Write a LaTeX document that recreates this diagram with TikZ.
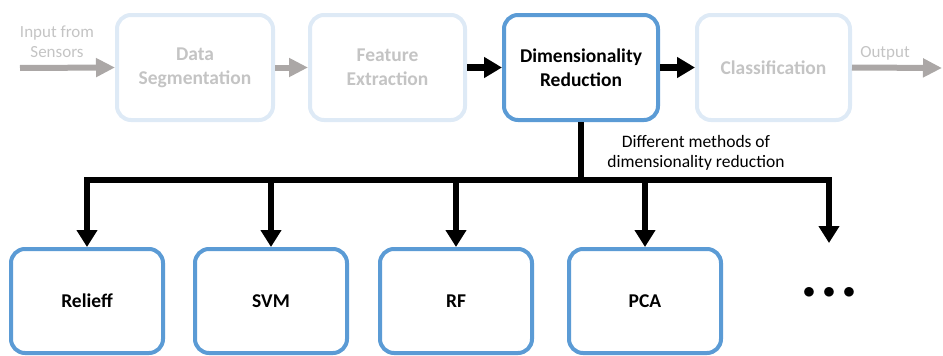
\documentclass[tikz,border=0pt]{standalone}
\usepackage{fontspec}
\setmainfont{Carlito}
\usetikzlibrary{arrows.meta}
\definecolor{lightbd}{HTML}{DEEAF6}
\definecolor{mainbd}{HTML}{5B9BD5}
\definecolor{greytxt}{HTML}{C4C4C4}
\definecolor{greyarr}{HTML}{ABA7A6}
\tikzset{
  stagebox/.style={draw=lightbd, line width=4pt, rounded corners=14pt, minimum height=105pt, align=center, font=\fontsize{19.5}{24}\selectfont\bfseries, text=greytxt},
  mainbox/.style={stagebox, draw=mainbd, text=black},
  methbox/.style={draw=mainbd, line width=4pt, rounded corners=14pt, minimum width=152pt, minimum height=104pt, font=\fontsize{19.5}{22}\selectfont\bfseries},
  greyarrow/.style={draw=greyarr, line width=6pt, -{Triangle[width=18pt,length=19pt]}},
  blackarrow/.style={draw=black, line width=7pt, -{Triangle[width=20pt,length=18pt]}},
  downarrow/.style={draw=black, line width=6pt, -{Triangle[width=20pt,length=17pt]}},
  smalltxt/.style={font=\fontsize{17.5}{20}\selectfont, align=center},
}
\begin{document}
\begin{tikzpicture}[x=1pt,y=-1pt]
\useasboundingbox (0,0) rectangle (943,356);
% top stages
\node[stagebox, minimum width=156pt] (ds) at (195,67.5) {Data\\Segmentation};
\node[stagebox, minimum width=155pt] (fe) at (387.5,67.5) {Feature\\Extraction};
\node[mainbox, minimum width=154pt] (dr) at (581,67.5) {Dimensionality\\Reduction};
\node[stagebox, minimum width=153pt] (cl) at (773.5,67.5) {Classification};
% input / output
\coordinate (inp) at (20,68);
\coordinate (outp) at (942,68);
\node[smalltxt, text=greytxt, font=\fontsize{17}{20}\selectfont] (inlbl) at (57,42) {Input from\\Sensors};
\node[smalltxt, text=greytxt, font=\fontsize{17}{20}\selectfont] (outlbl) at (885,53) {Output};
\draw[greyarrow] (inp) -- (ds.west);
\draw[greyarrow] (ds.east) -- (fe.west);
\draw[blackarrow] (fe.east) -- (dr.west);
\draw[blackarrow] (dr.east) -- (cl.west);
\draw[greyarrow] (cl.east) -- (outp);
% methods
\node[methbox] (rel) at (87,301) {Relieff};
\node[methbox] (svm) at (271,301) {SVM};
\node[methbox] (rf) at (456,301) {RF};
\node[methbox] (pca) at (645,301) {PCA};
\coordinate (more) at (829,243);
\node[font=\fontsize{29}{29}\selectfont] (dots) at (829,293) {$\bullet\hspace{2pt}\bullet\hspace{2pt}\bullet$};
\coordinate (barL) at (84,180);
\coordinate (barR) at (832,180);
\coordinate (barM) at (581,180);
\draw[line width=6pt] (dr.south) -- (barM);
\draw[line width=6pt] (barL) -- (barR);
\draw[downarrow] (rel.north |- barM) -- (rel.north);
\draw[downarrow] (svm.north |- barM) -- (svm.north);
\draw[downarrow] (rf.north |- barM) -- (rf.north);
\draw[downarrow] (pca.north |- barM) -- (pca.north);
\draw[downarrow] (more |- barM) -- (more);
\node[smalltxt] (diff) at (696,153) {Different methods of\\dimensionality reduction};
\end{tikzpicture}
\end{document}
